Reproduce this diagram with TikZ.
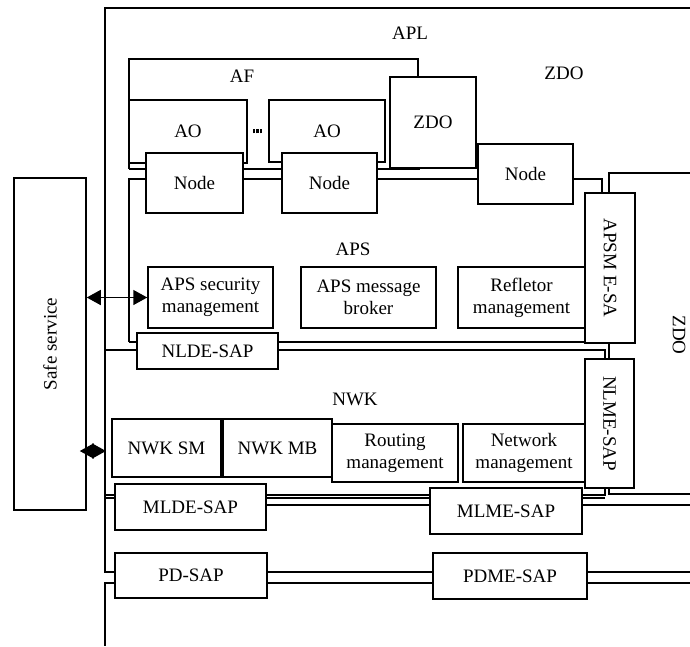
\documentclass[tikz,border=0pt]{standalone}
\usepackage{fontspec}
\setmainfont{Liberation Serif}
\usetikzlibrary{arrows.meta}
\newcommand{\fs}{\fontsize{19}{22}\selectfont}
\newcommand{\tick}{\rule{2.3pt}{4.5pt}}
\tikzset{
  box/.style={draw, fill=white, line width=1.5pt, inner sep=0pt, align=center, font=\fs},
  lbl/.style={inner sep=0pt, font=\fs},
  frame/.style={line width=1.5pt},
  dbl/.style={line width=1.5pt, {Triangle[length=14pt,width=15pt]}-{Triangle[length=14pt,width=15pt]}}
}
\begin{document}
\begin{tikzpicture}[x=1pt,y=-1pt]
\useasboundingbox (0,0) rectangle (690,646);
% APL frame and NWK frame
\draw[frame] (690,8) -- (105,8) -- (105,495) -- (605,495) -- (605,486);
\draw[frame] (105,350) -- (605,350) -- (605,361);
% AF frame
\draw[frame] (129,169) -- (129,59) -- (418,59) -- (418,79);
\draw[frame] (129,169) -- (420,169);
% APS frame
\draw[frame] (129,342) -- (129,179) -- (602,179) -- (602,195);
\draw[frame] (129,342) -- (587,342);
% ZDO frame on the right
\draw[frame] (690,173) -- (609,173) -- (609,494) -- (690,494);
% MAC and PHY
\draw[frame] (105,495) -- (105,572) -- (690,572);
\draw[frame] (105,498) -- (605,498);
\draw[frame] (115,505) -- (690,505);
\draw[frame] (690,583) -- (105,583) -- (105,646);

% labels
\node[lbl] (apl) at (410,33) {APL};
\node[lbl] (af) at (242,76) {AF};
\node[lbl] (zdotop) at (564,73) {ZDO};
\node[lbl] (aps) at (353,249) {APS};
\node[lbl] (nwk) at (355,399) {NWK};
\node[lbl, rotate=-90] (zdoright) at (679,335) {ZDO};

% AF content
\node[box, minimum width=118pt, minimum height=63pt] (ao1) at (188,131.5) {AO};
\node[box, minimum width=116pt, minimum height=62pt] (ao2) at (327,131) {AO};
\node[inner sep=0pt] (dots) at (257.5,131) {\tick\hspace{1.5pt}\tick\hspace{1.5pt}\tick};
\node[box, minimum width=86pt, minimum height=91pt] (zdoin) at (433,122.5) {ZDO};

% Nodes
\node[box, minimum width=97pt, minimum height=60pt] (n1) at (194.5,183) {Node};
\node[box, minimum width=95pt, minimum height=60pt] (n2) at (329.5,183) {Node};
\node[box, minimum width=95pt, minimum height=60pt] (n3) at (525.5,174) {Node};

% APS content
\node[box, rotate=-90, minimum width=150pt, minimum height=50pt] (apsme) at (610,268) {APSM E-SA};
\node[box, minimum width=125pt, minimum height=61pt] (sec) at (210.5,297.5) {APS security\\management};
\node[box, minimum width=135pt, minimum height=61pt] (broker) at (368.5,297.5) {APS message\\broker};
\node[box, minimum width=127pt, minimum height=61pt] (refl) at (521.5,297.5) {Refletor\\management};
\node[box, minimum width=141pt, minimum height=36pt] (nlde) at (207.5,351) {NLDE-SAP};

% NWK content
\node[box, rotate=-90, minimum width=129pt, minimum height=49pt] (nlme) at (609.5,423.5) {NLME-SAP};
\node[box, minimum width=109pt, minimum height=58pt] (nwksm) at (166.5,448) {NWK SM};
\node[box, minimum width=109pt, minimum height=58pt] (nwkmb) at (277.5,448) {NWK MB};
\node[box, minimum width=126pt, minimum height=58pt] (routing) at (395,453) {Routing\\management};
\node[box, minimum width=122pt, minimum height=58pt] (netm) at (524,453) {Network\\management};

% SAPs
\node[box, minimum width=151pt, minimum height=46pt] (mlde) at (190.5,507) {MLDE-SAP};
\node[box, minimum width=152pt, minimum height=46pt] (mlme) at (506,511) {MLME-SAP};
\node[box, minimum width=152pt, minimum height=45pt] (pd) at (191,575.5) {PD-SAP};
\node[box, minimum width=154pt, minimum height=46pt] (pdme) at (510,576) {PDME-SAP};

% Safe service
\node[box, rotate=90, minimum width=332pt, minimum height=72pt] (safe) at (50,344) {Safe service};

% arrows
\coordinate (nwkl) at (106,451);
\draw[dbl] (safe.south |- sec.west) -- (sec.west);
\draw[dbl] ([xshift=-7pt]safe.south |- nwkl) -- (nwkl);
\end{tikzpicture}
\end{document}
